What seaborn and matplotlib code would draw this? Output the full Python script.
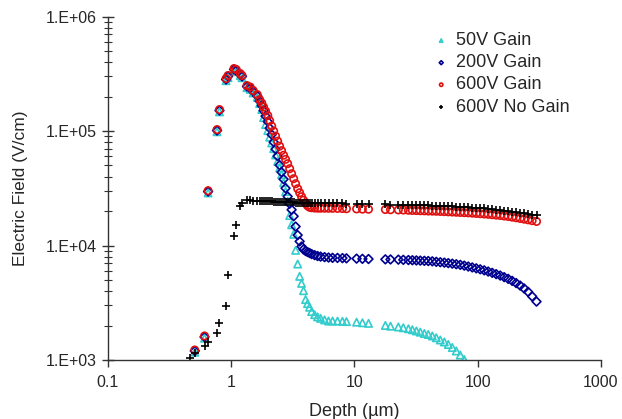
import numpy as np
import pandas as pd
import matplotlib
matplotlib.use('Agg')
import matplotlib.pyplot as plt
import seaborn as sns
from matplotlib.ticker import FixedLocator, FixedFormatter, LogLocator, NullFormatter, NullLocator

nan = np.nan

# depth mesh (um)
depth_um = [
    0.467, 0.506, 0.607, 0.649, 0.767, 0.803, 0.908, 0.942, 1.054, 1.098, 1.183, 1.223, 1.342, 1.425, 1.507, 1.624,
    1.70, 1.77, 1.83, 1.90, 1.98, 2.05, 2.13, 2.21, 2.29, 2.38, 2.47, 2.56, 2.66, 2.76, 2.87, 2.98,
    3.09, 3.21, 3.33, 3.46, 3.59, 3.72, 3.86, 4.01, 4.16, 4.32, 4.49, 4.75, 5.02, 5.31, 5.72, 6.16,
    6.64, 7.28, 7.99, 8.61, 10.4, 11.6, 13.0, 17.8, 19.6, 22.7, 24.9, 27.4,
    29.5, 31.8, 34.2, 36.9, 39.7, 42.8, 46.1, 49.7, 53.6, 57.7, 62.2, 67.0, 72.2, 77.8, 83.8, 90.3,
    97.3, 104.8, 112.9, 121.6, 131.1, 141.2, 152.2, 163.9, 176.6, 190.3, 205.0, 220.9, 238.0, 256.4, 276.3, 300.0,
]

field_50v = [
    nan, 1170, 1550, 28800, 98500, 147000, 275000, 292000, 337000, 330000, 305000, 292000, 239000, 231000, 215000, 197000,
    173700, 153900, 131000, 113800, 100800, 88450, 78700, 70150, 61800, 54300, 47560, 41540, 35380, 29620, 24360, 18260,
    15180, 12530, 9080, 6890, 5380, 4670, 4030, 3370, 3110, 2890, 2650, 2490, 2380, 2310, 2240, 2190,
    2190, 2185, 2175, 2165, 2140, 2115, 2090, 2004, 1975, 1944, 1913, 1875,
    1837, 1793, 1750, 1705, 1671, 1622, 1564, 1496, 1437, 1366, 1286, 1199, 1106, 1010, nan, nan,
    nan, nan, nan, nan, nan, nan, nan, nan, nan, nan, nan, nan, nan, nan, nan, nan,
]

field_200v = [
    nan, 1200, 1590, 29600, 101000, 151000, 282000, 300000, 345000, 338000, 312000, 300000, 245000, 237000, 221000, 203000,
    182600, 166800, 150800, 135000, 120900, 106000, 93000, 79970, 69430, 60300, 50310, 43700, 37950, 31650, 26790, 23170,
    20530, 18010, 14640, 12330, 10860, 9800, 9230, 8950, 8770, 8600, 8420, 8240, 8090, 8000, 7915, 7850,
    7803, 7790, 7760, 7727, 7680, 7648, 7620, 7571, 7555, 7525, 7495, 7466,
    7436, 7406, 7376, 7346, 7317, 7273, 7200, 7142, 7085, 7015, 6944, 6861, 6778, 6670, 6551, 6434,
    6317, 6192, 6067, 5923, 5770, 5621, 5465, 5292, 5113, 4911, 4698, 4467, 4215, 3935, 3594, 3236,
]

field_600v = [
    nan, 1223, 1622, 30100, 102900, 153900, 287300, 305300, 351400, 344400, 317800, 305300, 249500, 242100, 225700, 208200,
    188200, 175400, 161900, 149400, 136400, 123300, 110400, 99800, 90260, 81560, 73780, 67380, 61420, 56550, 51860, 46880,
    42400, 38330, 34660, 31340, 28920, 26680, 24860, 23400, 22250, 21590, 21370, 21250, 21200, 21160, 21160, 21140,
    21120, 21080, 21040, 20950, 20870, 20780, 20740, 20620, 20530, 20450, 20410, 20320,
    20240, 20200, 20120, 20080, 20000, 19960, 19920, 19840, 19760, 19680, 19600, 19520, 19440, 19360, 19290, 19170,
    19060, 18950, 18840, 18720, 18580, 18430, 18290, 18100, 17930, 17690, 17480, 17240, 17000, 16760, 16480, 16220,
]

field_600v_nogain = [
    1035, 1151, 1334, 1428, 1733, 2120, 2968, 5576, 11990, 15180, 22250, 23500, 24760, 24760, 24700, 24600,
    24550, 24500, 24450, 24400, 24350, 24300, 24250, 24200, 24150, 24100, 24050, 24000, 23950, 23900, 23850, 23800,
    23780, 23760, 23740, 23720, 23700, 23680, 23660, 23640, 23620, 23600, 23580, 23560, 23540, 23520, 23500, 23480,
    23470, 23420, 23330, 23240, 23100, 23010, 22920, 22830, 22780, 22780, 22740, 22740,
    22610, 22560, 22520, 22470, 22430, 22340, 22290, 22200, 22110, 22020, 21930, 21850, 21760, 21670, 21590, 21460,
    21340, 21210, 21080, 20910, 20740, 20570, 20410, 20200, 20000, 19800, 19600, 19360, 19130, 18900, 18630, 18370,
]

series_labels = ['50V Gain', '200V Gain', '600V Gain', '600V No Gain']
series_markers = ['^', 'D', 'o', '+']
series_colors = ['#33CCCC', '#000090', '#E01010', '#000000']

xtick_vals = [0.1, 1, 10, 100, 1000]
xtick_labels = ['0.1', '1', '10', '100', '1000']
ytick_vals = [1e3, 1e4, 1e5, 1e6]
ytick_labels = ['1.E+03', '1.E+04', '1.E+05', '1.E+06']

df = pd.DataFrame({
    'depth': depth_um * 4,
    'field': field_50v + field_200v + field_600v + field_600v_nogain,
    'series': np.repeat(series_labels, len(depth_um)),
})

sns.set_style('ticks')
plt.rcParams['font.family'] = ['Liberation Sans', 'DejaVu Sans']

fig = plt.figure(figsize=(6.22, 4.19), dpi=100)
ax = fig.add_axes([0.1736, 0.1408, 0.7926, 0.8198])

for name, mk, col in zip(series_labels, series_markers, series_colors):
    sub = df[df['series'] == name].dropna()
    if mk == '+':
        sns.scatterplot(data=sub, x='depth', y='field', marker='+', color=col,
                        s=38, linewidth=1.2, ax=ax, label=name)
    else:
        size = 20 if mk == 'D' else 28
        sns.scatterplot(data=sub, x='depth', y='field', marker=mk, color=col,
                        facecolor='none', edgecolor=col, s=size, linewidth=1.2,
                        ax=ax, label=name)

ax.set_xscale('log')
ax.set_yscale('log')
ax.set_xlim(0.1, 1000)
ax.set_ylim(1e3, 1e6)

ax.xaxis.set_major_locator(FixedLocator(xtick_vals))
ax.xaxis.set_major_formatter(FixedFormatter(xtick_labels))
ax.xaxis.set_minor_locator(NullLocator())
ax.yaxis.set_major_locator(FixedLocator(ytick_vals))
ax.yaxis.set_major_formatter(FixedFormatter(ytick_labels))
ax.yaxis.set_minor_locator(LogLocator(base=10, subs=np.arange(2, 10)))
ax.yaxis.set_minor_formatter(NullFormatter())

ax.tick_params(axis='x', which='major', direction='out', length=5, width=1, labelsize=11.5, pad=6, color='#333333')
ax.tick_params(axis='y', which='major', direction='inout', length=8, width=1, labelsize=11.5, pad=4, color='#333333')
ax.tick_params(axis='y', which='minor', direction='inout', length=6, width=0.8, color='#333333')

for side in ['top', 'right']:
    ax.spines[side].set_visible(False)
for side in ['left', 'bottom']:
    ax.spines[side].set_color('#333333')
    ax.spines[side].set_linewidth(1.0)

ax.set_xlabel('Depth (µm)', fontsize=13, labelpad=9)
ax.set_ylabel('Electric Field (V/cm)', fontsize=12.5, labelpad=13)

ax.legend(loc='upper left', bbox_to_anchor=(0.689, 0.94), bbox_transform=fig.transFigure,
          frameon=False, fontsize=13, markerscale=0.45, handlelength=0.6,
          handletextpad=0.5, labelspacing=0.28, borderaxespad=0)

fig.savefig('out.png', dpi=100)
